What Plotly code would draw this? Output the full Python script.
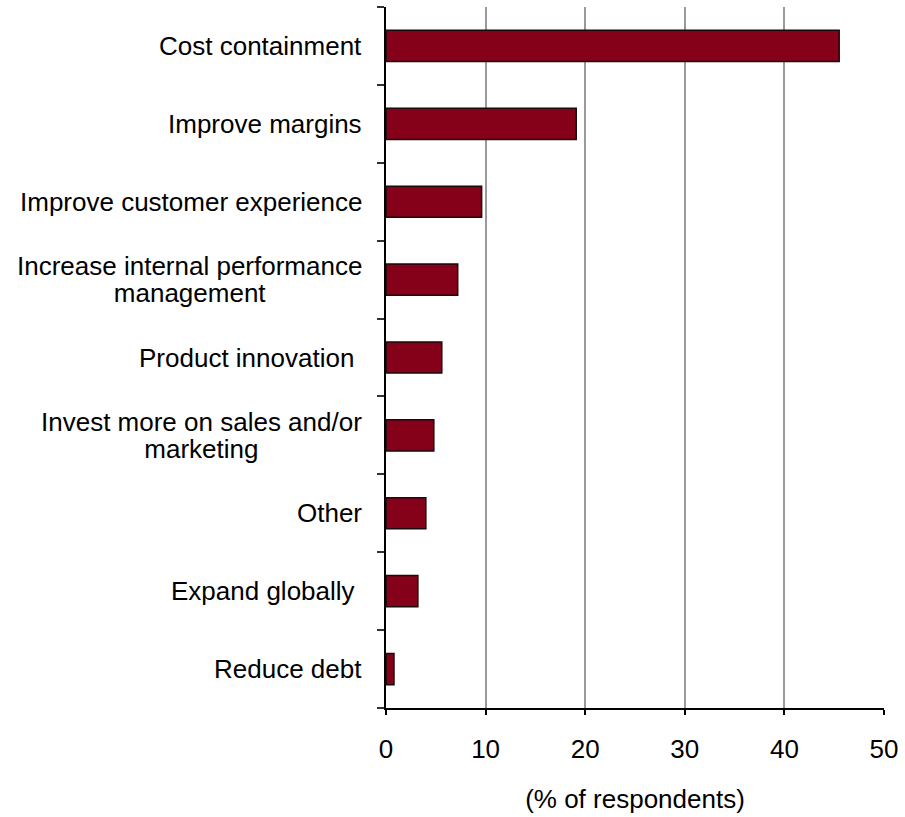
import plotly.graph_objects as go

# Survey responses: top business priorities
categories = [
    "Cost containment",
    "Improve margins",
    "Improve customer experience",
    "Increase internal performance<br>management",
    "Product innovation\u00a0",
    "Invest more on sales and/or<br>marketing",
    "Other",
    "Expand globally\u00a0",
    "Reduce debt",
]
values = [45.5, 19.1, 9.6, 7.2, 5.6, 4.8, 4.0, 3.2, 0.8]
x_ticks = [0, 10, 20, 30, 40, 50]

FONT = "Liberation Sans, Arial, sans-serif"
FS = 26

fig = go.Figure(
    go.Bar(
        x=values,
        y=list(range(len(categories))),
        orientation="h",
        width=0.4,
        marker=dict(color="#850019", line=dict(color="#1a0a0a", width=1.5)),
        hoverinfo="x",
    )
)

# Category labels, right-aligned against the axis with centred multi-line text.
# Wrapped labels use a smaller base size so the line spacing stays tight,
# while the glyphs themselves are drawn at the full label size.
for i, label in enumerate(categories):
    two_line = "<br>" in label
    if two_line:
        lines = label.split("<br>")
        text = "<br>".join(f'<span style="font-size:{FS}px">{ln}</span>' for ln in lines)
        base = 21
    else:
        text, base = label, FS
    fig.add_annotation(
        x=0, xref="paper", xanchor="right", xshift=-22,
        y=i, yref="y", yanchor="middle",
        text=text, align="center", showarrow=False,
        font=dict(family=FONT, size=base, color="#000000"),
    )

fig.update_layout(
    width=905, height=817,
    margin=dict(l=386, r=16, t=7, b=109),
    paper_bgcolor="white", plot_bgcolor="white",
    showlegend=False,
    font=dict(family=FONT, size=FS, color="#000000"),
    xaxis=dict(
        range=[0, 50], tickvals=x_ticks,
        showgrid=True, gridcolor="#9a9a9a", gridwidth=1.5,
        showline=True, linecolor="#000000", linewidth=2,
        ticks="outside", ticklen=5, tickcolor="#000000", tickwidth=1.5,
        ticklabelstandoff=12,
        tickfont=dict(family=FONT, size=FS),
        title=dict(text="(% of respondents)", font=dict(family=FONT, size=FS), standoff=27),
        zeroline=False,
    ),
    yaxis=dict(
        range=[len(categories) - 0.5, -0.5],
        tickvals=[i - 0.5 for i in range(len(categories) + 1)],
        showticklabels=False,
        showgrid=False, zeroline=False,
        showline=True, linecolor="#000000", linewidth=2,
        ticks="outside", ticklen=7, tickcolor="#333333", tickwidth=1.5,
    ),
)

fig.write_html("out.html")
